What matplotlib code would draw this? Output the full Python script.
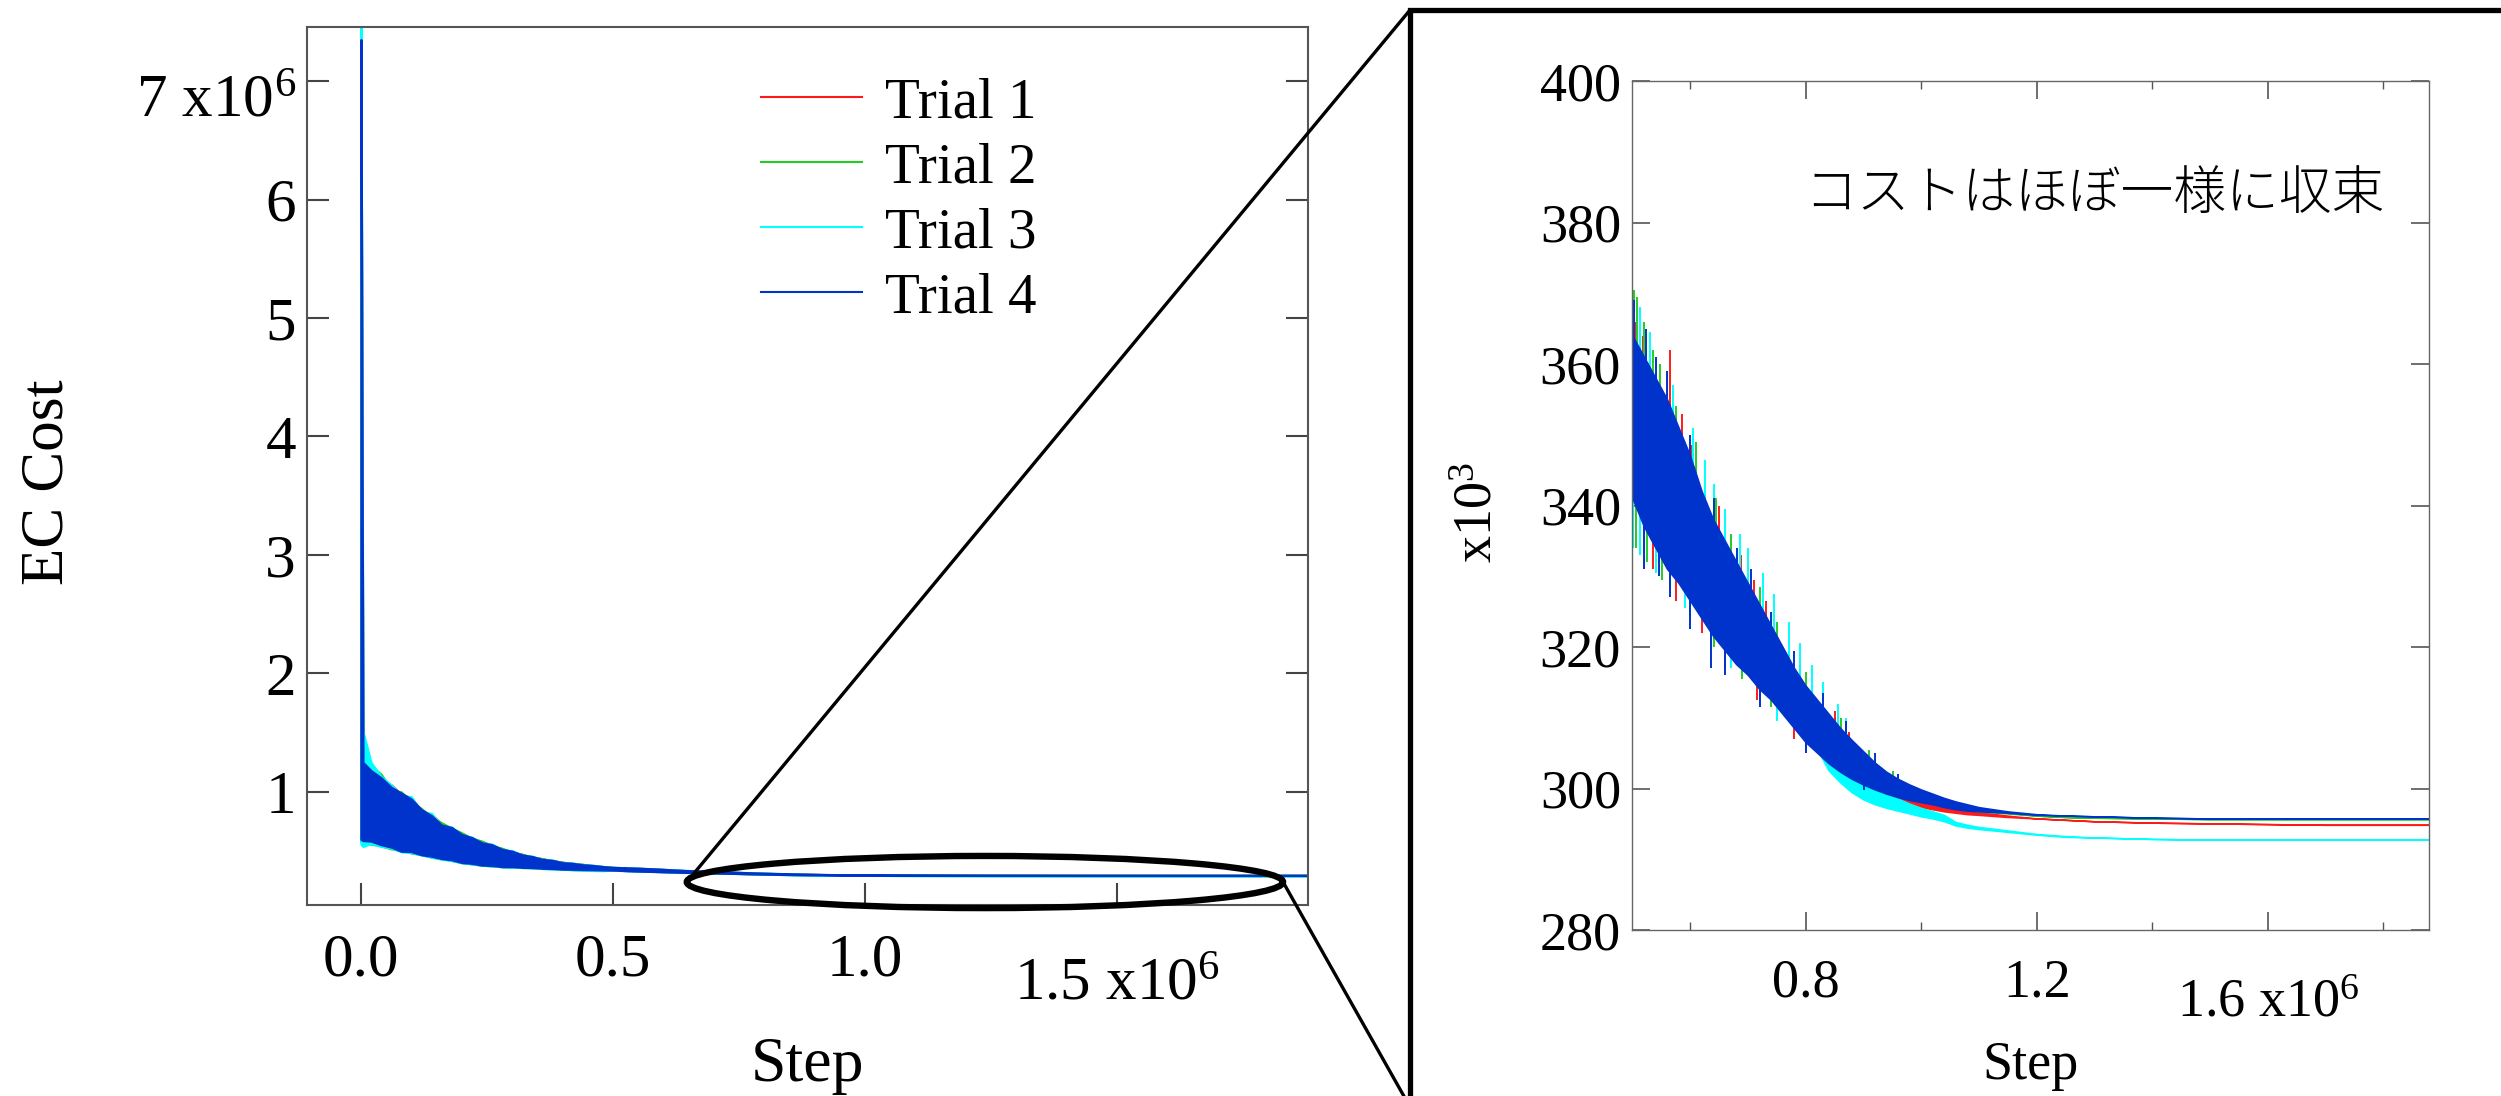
import matplotlib
matplotlib.use("Agg")
import matplotlib.pyplot as plt
import matplotlib.transforms as mtransforms
from matplotlib.lines import Line2D
from matplotlib.patches import Ellipse, Rectangle, ConnectionPatch

# training steps (x1e6) at which the cost traces were sampled
steps = [0, 0.004, 0.02, 0.04, 0.06, 0.08, 0.10, 0.12, 0.14, 0.16, 0.18,
         0.20, 0.22, 0.24, 0.26, 0.28, 0.30, 0.32, 0.34, 0.36, 0.38, 0.40,
         0.42, 0.44, 0.46, 0.48, 0.50, 0.52, 0.54, 0.56, 0.58, 0.60, 0.62,
         0.64, 0.66, 0.68, 0.70, 0.72, 0.74, 0.76, 0.78, 0.80, 0.82, 0.84,
         0.86, 0.88, 0.90, 0.92, 0.94, 0.96, 0.98, 1.00, 1.02, 1.04, 1.06,
         1.08, 1.10, 1.15, 1.20, 1.25, 1.30, 1.40, 1.50, 1.60, 1.70, 1.88]

# EC cost (x1e3): upper / lower edge of each noisy trace
trial1_hi = [7300, 1230, 1200, 1100, 1060, 980, 950, 840, 810, 730, 690,
             650, 605, 580, 550, 520, 495, 472, 450, 436, 420, 406, 396,
             388, 377, 370,
             362.5, 359.5, 356.5, 353.5, 349.5, 345.5, 340.5, 336.5, 333.5,
             330.5, 327.5, 324.5, 321.5, 318.5, 315.5, 313, 311, 309, 307,
             305.3, 303.8, 302.5, 301.2, 300.2, 299.5, 298.9, 298.4, 297.9,
             297.4, 297.0, 296.6, 296.1, 295.7, 295.5, 295.3, 295.1, 295.0,
             294.9, 294.8, 294.8]
trial1_lo = [590, 580, 575, 560, 530, 505, 490, 478, 452, 442, 422, 410,
             393, 386, 376, 373, 367, 366, 360, 358, 352, 351, 345, 345, 343,
             341,
             342, 338, 335, 332, 330, 327.5, 325, 322.5, 320.5, 318.5, 317,
             315, 313.5, 311.5, 309.5, 307.5, 306, 304.5, 303.2, 302, 300.8,
             299.3, 298.6, 298.0, 297.6, 297.3, 297.0, 296.7, 296.5, 296.3,
             296.2, 295.9, 295.7, 295.5, 295.3, 295.1, 295.0, 294.9, 294.8,
             294.8]

trial2_hi = [7300, 1280, 1220, 1150, 1020, 1000, 920, 860, 790, 740, 695,
             655, 610, 585, 545, 525, 490, 475, 448, 438, 418, 408, 394,
             390, 376, 372,
             363, 360, 357, 354, 350, 346, 341, 337, 334, 331, 328, 325, 322,
             319, 316, 313.5, 311.5, 309.5, 307.5, 305.8, 304.2, 302.8,
             301.6, 300.7, 300.0, 299.4, 298.9, 298.3, 297.9, 297.5, 297.1,
             296.5, 296.1, 295.9, 295.8, 295.7, 295.6, 295.6, 295.6, 295.6]
trial2_lo = [580, 570, 560, 545, 520, 510, 485, 472, 450, 436, 425, 402,
             396, 381, 378, 368, 368, 362, 361, 354, 353, 347, 346, 341, 340,
             338,
             342, 338, 335, 332, 330, 327.5, 325, 322.5, 320.5, 318.5, 317,
             315, 313.5, 311.5, 309.5, 307.5, 306, 304.5, 303.3, 302.3, 301.3,
             300.5, 299.8, 299.2, 298.7, 298.3, 297.9, 297.5, 297.2, 296.9,
             296.7, 296.4, 296.1, 295.9, 295.8, 295.7, 295.6, 295.6, 295.6,
             295.6]

trial3_hi = [7600, 1510, 1250, 1130, 1060, 970, 960, 830, 820, 710, 705,
             630, 620, 565, 560, 510, 505, 465, 458, 428, 425, 402, 400,
             384, 382, 370,
             363, 360, 357, 354, 350, 346, 341, 337, 334, 331, 328, 325, 322,
             319, 316, 313.5, 311.5, 309, 306.5, 304, 302, 300.4, 299.3,
             298.5, 297.8, 297.2, 296.7, 296.2, 295.2, 294.8, 294.5, 294.0,
             293.5, 293.2, 293.0, 292.8, 292.7, 292.7, 292.7, 292.7]
trial3_lo = [560, 540, 565, 540, 528, 495, 488, 468, 450, 434, 420, 404,
             392, 382, 374, 370, 365, 363, 358, 355, 350, 348, 343, 341, 337,
             336,
             341.5, 337.5, 334.5, 331.5, 329.5, 327, 324.5, 322, 320, 318,
             316.5, 314.5, 313, 311, 309, 307, 305.5, 302.5, 300.8, 299.4,
             298.4, 297.7, 297.2, 296.8, 296.4, 296.0, 295.7, 295.3, 294.7,
             294.4, 294.2, 293.8, 293.4, 293.1, 293.0, 292.8, 292.7, 292.7,
             292.7, 292.7]

trial4_hi = [7350, 1250, 1180, 1120, 1040, 990, 940, 850, 800, 720, 700,
             640, 615, 570, 555, 515, 500, 468, 455, 430, 423, 403, 398,
             385, 380, 370,
             364, 361, 358, 355, 351, 347, 342, 338, 335, 332, 329, 326, 323,
             320, 317, 314.5, 312.5, 310.5, 308.5, 306.8, 305.2, 303.6,
             302.3, 301.3, 300.5, 299.8, 299.2, 298.6, 298.1, 297.7, 297.3,
             296.7, 296.3, 296.1, 296.0, 295.8, 295.7, 295.7, 295.7, 295.7]
trial4_lo = [600, 590, 585, 555, 535, 500, 497, 470, 458, 438, 428, 405,
             398, 383, 380, 370, 370, 364, 363, 356, 355, 349, 348, 346, 344,
             342,
             341, 337, 334, 331, 329, 326.5, 324, 321.5, 319.5, 317.5, 316,
             314, 312.5, 310.5, 308.5, 306.5, 305, 303.5, 302.3, 301.3, 300.5,
             299.8, 299.2, 298.7, 298.3, 298.0, 297.7, 297.3, 297.0, 296.8,
             296.7, 296.5, 296.2, 296.1, 296.0, 295.8, 295.7, 295.7, 295.7,
             295.7]

# short excursions of each trace: (step x1e6, low x1e3, high x1e3)
trial1_spikes = [(0.505, 351, 366), (0.518, 349, 364), (0.535, 331, 345),
                 (0.565, 342, 362), (0.575, 326.5, 340), (0.585, 339, 353),
                 (0.602, 336, 348.5), (0.62, 322, 333), (0.65, 329, 340),
                 (0.66, 317, 327), (0.688, 324, 333), (0.71, 321, 329.5),
                 (0.715, 312.5, 320), (0.73, 319, 326.5), (0.78, 307, 313),
                 (0.79, 312, 317.5), (0.84, 302.5, 307), (0.85, 306, 311),
                 (0.875, 304.5, 308), (0.88, 300.3, 304), (0.93, 298.8, 301)]
trial2_spikes = [(0.502, 352, 370.5), (0.505, 334, 352), (0.508, 351, 369.5),
                 (0.52, 349, 366), (0.525, 332, 348), (0.535, 347, 362),
                 (0.548, 345, 360), (0.55, 329.5, 344), (0.565, 328.5, 342),
                 (0.575, 340, 354), (0.6, 324.5, 337), (0.61, 335, 349),
                 (0.64, 320, 330), (0.645, 329, 341), (0.67, 326, 336),
                 (0.69, 315.5, 324), (0.72, 320, 328.5), (0.74, 311.5, 318),
                 (0.75, 316, 323.5), (0.8, 305.5, 310.5), (0.8, 310.5, 316.5),
                 (0.86, 305.5, 310), (0.89, 300.6, 303.5), (0.91, 302.5, 305.5),
                 (0.95, 300.5, 302.5)]
trial3_spikes = [(0.501, 334, 352), (0.512, 350, 368), (0.513, 333, 350),
                 (0.53, 347, 364.5), (0.54, 330.5, 346), (0.57, 342, 357),
                 (0.59, 325.5, 338), (0.605, 336, 351), (0.625, 332, 346.5),
                 (0.64, 330, 343), (0.66, 327, 339.5), (0.67, 317, 326),
                 (0.685, 324, 336), (0.7, 322.5, 334), (0.725, 319.5, 330.5),
                 (0.745, 317, 327.5), (0.75, 309.5, 316), (0.77, 314, 323.5),
                 (0.79, 312, 320.5), (0.81, 310, 317.5), (0.83, 308, 315),
                 (0.855, 306, 312), (0.86, 301, 305.5), (0.87, 305, 310),
                 (0.9, 298.8, 303)]
trial4_spikes = [(0.503, 352, 369), (0.52, 331, 349), (0.523, 348, 365),
                 (0.54, 346, 361), (0.545, 330, 345), (0.56, 343, 359),
                 (0.565, 327, 342), (0.6, 322.5, 337), (0.6, 337, 350),
                 (0.636, 317, 331), (0.64, 330, 341), (0.66, 316, 327),
                 (0.68, 325, 334), (0.705, 322, 331), (0.72, 311.5, 320),
                 (0.74, 318, 325), (0.78, 313, 319.5), (0.8, 305, 310.5),
                 (0.83, 308, 313.5), (0.87, 305, 309.5), (0.9, 299.8, 303),
                 (0.92, 301.7, 305), (0.96, 300, 302)]

trial_labels = ["Trial 1", "Trial 2", "Trial 3", "Trial 4"]
trial_colors = ["#ff1a1a", "#22cc22", "#00ffff", "#0033cc"]
trial_hi = [trial1_hi, trial2_hi, trial3_hi, trial4_hi]
trial_lo = [trial1_lo, trial2_lo, trial3_lo, trial4_lo]
trial_spikes = [trial1_spikes, trial2_spikes, trial3_spikes, trial4_spikes]

full_yticks = [1, 2, 3, 4, 5, 6, 7]
full_ytick_labels = ["1", "2", "3", "4", "5", "6", "7 x10$^{6}$"]
full_xticks = [0.0, 0.5, 1.0, 1.5]
full_xtick_labels = ["0.0", "0.5", "1.0", "1.5 x10$^{6}$"]

zoom_yticks = [280, 300, 320, 340, 360, 380, 400]
zoom_xticks = [0.8, 1.2, 1.6]
zoom_xtick_labels = ["0.8", "1.2", "1.6 x10$^{6}$"]
zoom_xminor = [0.6, 1.0, 1.4, 1.8]

note = "コストはほぼ一様に収束"

# highlighted range of the converged tail (step x1e6, cost x1e6)
focus_center = (1.238, 0.24)
focus_size = (1.183, 0.44)


def shift_label(fig, label, dx_px, dy_px):
    '''Move one tick label by a fixed number of pixels'''
    off = mtransforms.ScaledTranslation(dx_px / 100, dy_px / 100,
                                        fig.dpi_scale_trans)
    label.set_transform(label.get_transform() + off)


def main():
    plt.rcParams["font.family"] = "Liberation Serif"
    plt.rcParams["mathtext.fontset"] = "custom"
    plt.rcParams["mathtext.rm"] = "Liberation Serif"
    plt.rcParams["mathtext.it"] = "Liberation Serif"

    W, H = 2501, 1096
    fig = plt.figure(figsize=(W / 100, H / 100), dpi=100)

    def px(x0, y0, x1, y1):
        return [x0 / W, 1 - y1 / H, (x1 - x0) / W, (y1 - y0) / H]

    ax = fig.add_axes(px(307, 27, 1308, 905))
    az = fig.add_axes(px(1632, 81, 2429, 930))

    # later trials are drawn over earlier ones
    for i, (hi, lo, sp, col) in enumerate(zip(trial_hi, trial_lo,
                                              trial_spikes, trial_colors)):
        z = 2 + i
        xs = [s[0] for s in sp]
        ax.fill_between(steps, [v / 1000 for v in lo], [v / 1000 for v in hi],
                        color=col, lw=1.6, zorder=z)
        ax.vlines(xs, [s[1] / 1000 for s in sp], [s[2] / 1000 for s in sp],
                  color=col, lw=1.3, zorder=z)
        az.fill_between(steps, lo, hi, color=col, lw=1.1, zorder=z)
        az.vlines(xs, [s[1] for s in sp], [s[2] for s in sp], color=col,
                  lw=1.4, zorder=z)

    # full run
    ax.set_xlim(-0.107, 1.879)
    ax.set_ylim(0.046, 7.456)
    ax.set_xticks(full_xticks, full_xtick_labels)
    ax.set_yticks(full_yticks, full_ytick_labels)
    ax.tick_params(direction="in", length=16, width=1.5, color="#444444",
                   labelsize=44, right=True, top=False)
    ax.tick_params(axis="x", pad=20)
    ax.tick_params(axis="y", pad=8)
    for sp in ax.spines.values():
        sp.set_color("#555555")
        sp.set_linewidth(1.5)
        sp.set_zorder(8)
    ax.set_xlabel("Step", fontsize=46)
    ax.xaxis.set_label_coords(0.5, -0.15)
    fig.text(48 / W, 1 - 482 / H, "EC Cost", fontsize=44, rotation=90,
             ha="center", va="center")

    handles = [Line2D([], [], color=c, lw=1.5) for c in trial_colors]
    ax.legend(handles, trial_labels, loc="upper left",
              bbox_to_anchor=(0.4535, 0.943), frameon=False, fontsize=41,
              handlelength=1.77, handletextpad=0.4, labelspacing=0.23,
              borderpad=0, borderaxespad=0)

    ell = Ellipse(focus_center, focus_size[0], focus_size[1], fill=False,
                  ec="black", lw=4.6, clip_on=False, zorder=10)
    ax.add_patch(ell)

    # zoomed tail
    az.set_xlim(0.4987, 1.879)
    az.set_ylim(280, 400)
    az.set_yticks(zoom_yticks)
    az.set_xticks(zoom_xticks, zoom_xtick_labels)
    az.set_xticks(zoom_xminor, minor=True)
    az.tick_params(which="both", direction="in", color="#555555",
                   top=True, right=True, labelsize=39)
    az.tick_params(which="major", length=13, width=1.2)
    az.tick_params(which="minor", length=6, width=1.0)
    az.tick_params(axis="x", which="both", pad=20)
    az.tick_params(axis="y", pad=8)
    for sp in az.spines.values():
        sp.set_color("#666666")
        sp.set_linewidth(1.0)
        sp.set_zorder(8)
    az.set_xlabel("Step", fontsize=39)
    az.xaxis.set_label_coords(0.5, -0.13)
    az.set_ylabel("x10$^{3}$", fontsize=39)
    az.yaxis.set_label_coords(-0.161, 0.492)
    az.text(0.216, 0.867, note, transform=az.transAxes, fontsize=38,
            family=["Noto Sans CJK JP", "DejaVu Sans"], fontweight="light",
            ha="left", va="center")

    # the labels carrying the exponent sit a little lower
    shift_label(fig, ax.xaxis.get_major_ticks()[-1].label1, 0, -24)
    shift_label(fig, az.xaxis.get_major_ticks()[-1].label1, 0, -20)
    shift_label(fig, ax.yaxis.get_major_ticks()[-1].label1, 0, -14)

    # frame around the zoomed view and the lines leading to it
    frame = Rectangle((1410 / W, -0.1), 0.6, 1.1 - 10 / H, fill=False,
                      ec="black", lw=3.8, transform=fig.transFigure)
    fig.patches.append(frame)
    left_end = (focus_center[0] - focus_size[0] / 2, focus_center[1])
    right_end = (focus_center[0] + focus_size[0] / 2, focus_center[1])
    for start, corner in ((left_end, (1410 / W, 1 - 10 / H)),
                          (right_end, (1410 / W, -0.01))):
        con = ConnectionPatch(xyA=start, coordsA=ax.transData, xyB=corner,
                              coordsB=fig.transFigure, color="black", lw=2.4)
        fig.add_artist(con)

    fig.savefig("out.png", dpi=100)


if __name__ == "__main__":
    main()
